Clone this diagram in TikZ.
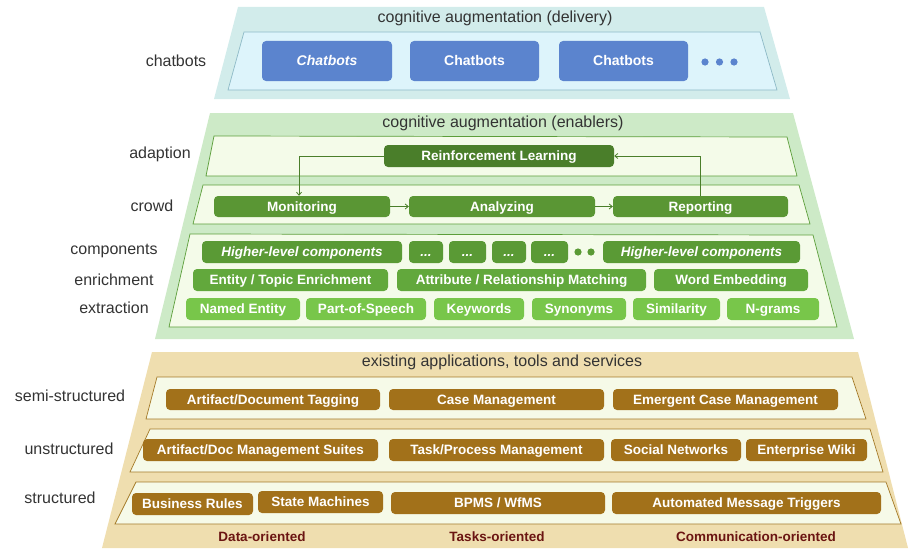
\documentclass[tikz,border=0pt]{standalone}
\usepackage{fontspec}
\setmainfont{Liberation Sans}
\usetikzlibrary{arrows.meta}

% palette
\definecolor{deliveryouter}{HTML}{D2ECEB}
\definecolor{deliveryinner}{HTML}{DDF4FB}
\definecolor{deliveryedge}{HTML}{8DB9C6}
\definecolor{chatblue}{HTML}{5B84CE}
\definecolor{enablerouter}{HTML}{CDEAC7}
\definecolor{bandgreen}{HTML}{F4FBE9}
\definecolor{edgegreen}{HTML}{5C9E3A}
\definecolor{rlgreen}{HTML}{4A7E2A}
\definecolor{crowdgreen}{HTML}{5A9634}
\definecolor{compgreen}{HTML}{5A9A35}
\definecolor{enrichgreen}{HTML}{62A83C}
\definecolor{extractgreen}{HTML}{78C64A}
\definecolor{existingouter}{HTML}{EFDEAF}
\definecolor{bandivory}{HTML}{F6FAE8}
\definecolor{edgebrown}{HTML}{A47A28}
\definecolor{boxbrown}{HTML}{A2711A}
\definecolor{coltext}{HTML}{6B1512}
\definecolor{labelgray}{HTML}{333333}

% rounded tile: name, x1, x2, y1, y2, extra style, text
\newcommand\tileat[7]{%
  \node[tile,#6,minimum width={#3-#2},minimum height={#5-#4}]
    (#1) at ({(#2+#3)/2},{(#4+#5)/2}) {#7};}

\begin{document}
\begin{tikzpicture}[x=1pt,y=-1pt,
  lbl/.style={text=labelgray,font=\fontsize{16}{18}\selectfont,inner sep=0},
  coltitle/.style={text=coltext,font=\fontsize{13.5}{15}\selectfont\bfseries,inner sep=0},
  tile/.style={rounded corners=4pt,inner sep=0,text=white,
    text height=9.7pt,text depth=0pt,
    font=\fontsize{13.5}{15}\selectfont\bfseries},
  chat/.style={fill=chatblue,font=\fontsize{14}{16}\selectfont\bfseries,text height=10pt},
  rl/.style={fill=rlgreen},
  crowdbox/.style={fill=crowdgreen},
  comp/.style={fill=compgreen},
  enrich/.style={fill=enrichgreen},
  extract/.style={fill=extractgreen},
  app/.style={fill=boxbrown},
  flow/.style={draw=rlgreen,line width=0.8pt,-{Straight Barb[length=3pt,width=5pt]}}
]
\useasboundingbox (0,0) rectangle (915,551);

% ---------- delivery layer ----------
\fill[deliveryouter] (238,7) -- (764,7) -- (790,99) -- (214,99) -- cycle;
\filldraw[fill=deliveryinner,draw=deliveryedge,line width=0.7pt]
  (244,32) -- (760,32) -- (777,90) -- (228,90) -- cycle;
\node[lbl] (tdel) at (495,18) {cognitive augmentation (delivery)};
\node[lbl] (lchat) at (176,61) {chatbots};
\tileat{cb1}{262}{392}{41}{81}{chat}{\itshape Chatbots}
\tileat{cb2}{410}{539}{41}{81}{chat}{Chatbots}
\tileat{cb3}{559}{688}{41}{81}{chat}{Chatbots}
\foreach \dx in {705,719.5,734} \fill[chatblue] (\dx,62) circle (3.6pt);

% ---------- enablers layer ----------
\fill[enablerouter] (210,113) -- (793,113) -- (854,339) -- (155,339) -- cycle;
\node[lbl] (tenab) at (503,123) {cognitive augmentation (enablers)};
\begin{scope}[fill=bandgreen,draw=edgegreen,line width=0.7pt]
  \filldraw (214,136) -- (787,137) -- (797,176) -- (206,176) -- cycle;
  \filldraw (203,185) -- (799,185) -- (810,224) -- (193,224) -- cycle;
  \filldraw (190,234) -- (813,235) -- (837,327) -- (169,327) -- cycle;
\end{scope}
\node[lbl] (ladapt) at (160,154) {adaption};
\node[lbl] (lcrowd) at (152,206) {crowd};
\node[lbl] (lcomp) at (114,251) {components};
\node[lbl] (lenrich) at (114,280) {enrichment};
\node[lbl] (lextract) at (114,308) {extraction};

\tileat{rlearn}{384}{614}{145}{167}{rl}{Reinforcement Learning}
\tileat{monit}{214}{390}{196}{217}{crowdbox}{Monitoring}
\tileat{analy}{409}{595}{196}{217}{crowdbox}{Analyzing}
\tileat{report}{613}{788}{196}{217}{crowdbox}{Reporting}

\draw[flow] (monit) -- (analy);
\draw[flow] (analy) -- (report);
\draw[flow] (report.north) |- (rlearn.east);
\draw[flow] (rlearn.west) -| ([xshift=-3pt]monit.north);

\tileat{hlc1}{202}{402}{241}{263}{comp}{\itshape Higher-level components}
\tileat{dd1}{409}{443}{241}{263}{comp}{\itshape ...}
\tileat{dd2}{449}{486}{241}{263}{comp}{\itshape ...}
\tileat{dd3}{492}{526}{241}{263}{comp}{\itshape ...}
\tileat{dd4}{531}{568}{241}{263}{comp}{\itshape ...}
\foreach \dx in {578,591} \fill[compgreen] (\dx,252) circle (3.6pt);
\tileat{hlc2}{603}{800}{241}{263}{comp}{\itshape Higher-level components}

\tileat{ent}{193}{388}{269}{291}{enrich}{Entity / Topic Enrichment}
\tileat{attr}{397}{646}{269}{291}{enrich}{Attribute / Relationship Matching}
\tileat{wemb}{654}{808}{269}{291}{enrich}{Word Embedding}

\tileat{ner}{186}{300}{298}{320}{extract}{Named Entity}
\tileat{pos}{306}{426}{298}{320}{extract}{Part-of-Speech}
\tileat{kw}{434}{524}{298}{320}{extract}{Keywords}
\tileat{syn}{532}{626}{298}{320}{extract}{Synonyms}
\tileat{sim}{633}{720}{298}{320}{extract}{Similarity}
\tileat{ngr}{727}{819}{298}{320}{extract}{N-grams}

% ---------- existing applications layer ----------
\fill[existingouter] (152,352) -- (858,352) -- (908,548) -- (102,548) -- cycle;
\node[lbl] (texist) at (502,362) {existing applications, tools and services};
\begin{scope}[fill=bandivory,draw=edgebrown,line width=0.7pt]
  \filldraw (157,377) -- (852,377) -- (866,419) -- (146,419) -- cycle;
  \filldraw (150,429) -- (870,429) -- (883,472) -- (130,472) -- cycle;
  \filldraw (136,482) -- (886,482) -- (901,524) -- (115,524) -- cycle;
\end{scope}
\node[lbl] (lsemi) at (70,396) {semi-structured};
\node[lbl] (lunstr) at (69,449) {unstructured};
\node[lbl] (lstr) at (60,498) {structured};

\tileat{adt}{166}{380}{389}{410}{app}{Artifact/Document Tagging}
\tileat{casem}{389}{604}{389}{410}{app}{Case Management}
\tileat{ecm}{613}{838}{389}{410}{app}{Emergent Case Management}

\tileat{adms}{143}{378}{439}{461}{app}{Artifact/Doc Management Suites}
\tileat{tpm}{389}{604}{439}{461}{app}{Task/Process Management}
\tileat{socn}{611}{741}{439}{461}{app}{Social Networks}
\tileat{ewiki}{746}{867}{439}{461}{app}{Enterprise Wiki}

\tileat{brules}{132}{253}{493}{515}{app}{Business Rules}
\tileat{smach}{258}{383}{491}{513}{app}{State Machines}
\tileat{bpms}{391}{605}{492}{514}{app}{BPMS / WfMS}
\tileat{amt}{612}{881}{492}{514}{app}{Automated Message Triggers}

\node[coltitle] (cdata) at (262,537) {Data-oriented};
\node[coltitle] (ctask) at (497,537) {Tasks-oriented};
\node[coltitle] (ccomm) at (756,537) {Communication-oriented};
\end{tikzpicture}
\end{document}
